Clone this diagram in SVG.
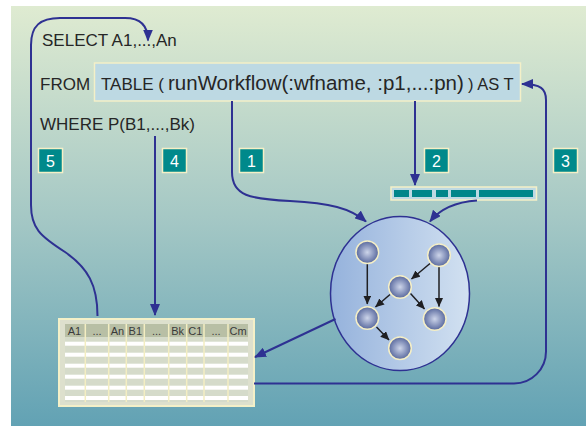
<svg xmlns="http://www.w3.org/2000/svg" width="586" height="426" viewBox="0 0 586 426">
<defs>
<linearGradient id="bg" x1="0" y1="0" x2="0" y2="1">
<stop offset="0" stop-color="#dfebd1"/>
<stop offset="0.5" stop-color="#a5c8c5"/>
<stop offset="1" stop-color="#62a2b4"/>
</linearGradient>
<linearGradient id="ell" x1="0" y1="0" x2="1" y2="0">
<stop offset="0" stop-color="#95b2dc"/>
<stop offset="1" stop-color="#d2e1f1"/>
</linearGradient>
<radialGradient id="ball" cx="0.5" cy="0.5" r="0.5">
<stop offset="0" stop-color="#cdd5ea"/>
<stop offset="1" stop-color="#58689d"/>
</radialGradient>
<marker id="ab" viewBox="0 0 12 10" refX="11" refY="5" markerWidth="12" markerHeight="10" markerUnits="userSpaceOnUse" orient="auto">
<path d="M0,0 L12,5 L0,10 Z" fill="#2e3192"/>
</marker>
<marker id="ak" viewBox="0 0 9 8" refX="8.5" refY="4" markerWidth="9" markerHeight="8" markerUnits="userSpaceOnUse" orient="auto">
<path d="M0,0 L9,4 L0,8 Z" fill="#1f1f22"/>
</marker>
<style>
.t{font-family:"Liberation Sans",Arial,sans-serif;fill:#262626}
.c{fill:none;stroke:#2e3192;stroke-width:2}
.num rect{fill:#00898b;stroke:#f5f0c6;stroke-width:1.5}
.num text{font-family:"Liberation Sans",Arial,sans-serif;font-size:16px;fill:#ffffff;text-anchor:middle}
.ball{fill:url(#ball);stroke:#f5efc6;stroke-width:1.5}
.ge{stroke:#1f1f22;stroke-width:1.5;fill:none}
.hd{font-family:"Liberation Sans",Arial,sans-serif;font-size:11px;fill:#3a3a3a;text-anchor:middle}
.col{stroke:#f3eec2;stroke-width:1.5}
.seg{fill:#00868a}
</style>
</defs>
<rect x="0" y="0" width="586" height="426" fill="#ffffff"/>
<rect x="11" y="6" width="575" height="420" fill="url(#bg)"/>

<g id="select">
<text class="t" x="42" y="46" font-size="17">SELECT A1,...,An</text>
</g>
<g id="from">
<text class="t" x="40" y="90" font-size="17">FROM</text>
<rect x="94.5" y="63" width="426" height="38" fill="#bdd9e3" stroke="#f4f0c8" stroke-width="1.5"/>
<text class="t" x="101" y="90" font-size="17">TABLE (</text>
<text class="t" x="168" y="90" font-size="20.5">runWorkflow(:wfname, :p1,...:pn)</text>
<text class="t" x="468" y="90" font-size="16.5">) AS T</text>
</g>
<g id="where">
<text class="t" x="40" y="130" font-size="17">WHERE P(B1,...,Bk)</text>
</g>

<g id="n5" class="num"><rect x="38.5" y="148.5" width="24" height="24"/><text x="50.5" y="166.5">5</text></g>
<g id="n4" class="num"><rect x="162.5" y="148.5" width="24" height="24"/><text x="174.5" y="166.5">4</text></g>
<g id="n1" class="num"><rect x="239.5" y="148.5" width="24" height="24"/><text x="251.5" y="166.5">1</text></g>
<g id="n2" class="num"><rect x="424.5" y="148.5" width="24" height="24"/><text x="436.5" y="166.5">2</text></g>
<g id="n3" class="num"><rect x="553.5" y="148.5" width="24" height="24"/><text x="565.5" y="166.5">3</text></g>

<g id="bar">
<rect x="391" y="187" width="145.5" height="13" fill="#bdd9e3" stroke="#f4f0c8" stroke-width="1.5"/>
<rect class="seg" x="394" y="190" width="15" height="7"/>
<rect class="seg" x="412" y="190" width="20" height="7"/>
<rect class="seg" x="436" y="190" width="12" height="7"/>
<rect class="seg" x="451" y="190" width="25" height="7"/>
<rect class="seg" x="479" y="190" width="54" height="7"/>
</g>

<g id="workflow">
<ellipse cx="400" cy="293.5" rx="69.5" ry="77" fill="url(#ell)" stroke="#2e3192" stroke-width="1.5"/>
<line class="ge" x1="367.3" y1="264" x2="367.3" y2="304" marker-end="url(#ak)"/>
<line class="ge" x1="439" y1="267" x2="439" y2="306.5" marker-end="url(#ak)"/>
<line class="ge" x1="430" y1="263.5" x2="411.5" y2="279" marker-end="url(#ak)"/>
<line class="ge" x1="390" y1="294.5" x2="375.5" y2="307" marker-end="url(#ak)"/>
<line class="ge" x1="410.5" y1="293.5" x2="424.5" y2="309" marker-end="url(#ak)"/>
<line class="ge" x1="376.5" y1="327" x2="389" y2="340" marker-end="url(#ak)"/>
<circle class="ball" cx="367.3" cy="252.3" r="11.3"/>
<circle class="ball" cx="439" cy="255.3" r="11.3"/>
<circle class="ball" cx="400" cy="287" r="11.3"/>
<circle class="ball" cx="367.3" cy="318" r="11.3"/>
<circle class="ball" cx="434.7" cy="319" r="11.3"/>
<circle class="ball" cx="400" cy="348.3" r="11.3"/>
</g>

<g id="result">
<rect x="59" y="319" width="195" height="87" fill="#dde0cd" stroke="#f4f0c8" stroke-width="2"/>
<rect x="65" y="324" width="183" height="13" fill="#b8bfa5"/>
<rect x="65" y="337" width="183" height="65" fill="#d5dbca"/>
<rect x="65" y="341.7" width="183" height="4" fill="#ffffff"/>
<rect x="65" y="352.7" width="183" height="4" fill="#ffffff"/>
<rect x="65" y="363.7" width="183" height="4" fill="#ffffff"/>
<rect x="65" y="374.7" width="183" height="4" fill="#ffffff"/>
<rect x="65" y="385.7" width="183" height="4" fill="#ffffff"/>
<rect x="65" y="396" width="183" height="4" fill="#ffffff"/>
<line class="col" x1="85.3" y1="324" x2="85.3" y2="402"/>
<line class="col" x1="108.7" y1="324" x2="108.7" y2="402"/>
<line class="col" x1="126.3" y1="324" x2="126.3" y2="402"/>
<line class="col" x1="144.3" y1="324" x2="144.3" y2="402"/>
<line class="col" x1="168.7" y1="324" x2="168.7" y2="402"/>
<line class="col" x1="186.7" y1="324" x2="186.7" y2="402"/>
<line class="col" x1="204" y1="324" x2="204" y2="402"/>
<line class="col" x1="228" y1="324" x2="228" y2="402"/>
<text class="hd" x="74.5" y="334.5">A1</text>
<text class="hd" x="97" y="334.5">...</text>
<text class="hd" x="117.5" y="334.5">An</text>
<text class="hd" x="135.3" y="334.5">B1</text>
<text class="hd" x="156.5" y="334.5">...</text>
<text class="hd" x="177.7" y="334.5">Bk</text>
<text class="hd" x="195.3" y="334.5">C1</text>
<text class="hd" x="216" y="334.5">...</text>
<text class="hd" x="238" y="334.5">Cm</text>
</g>

<g id="connectors">
<path class="c" d="M232,101 V172 C232,196 250,199 290,201 C330,203 350,208 366,221.5" marker-end="url(#ab)"/>
<path class="c" d="M415,101 V185" marker-end="url(#ab)"/>
<path class="c" d="M477,200.5 C455,202 440,209 430,221.5" marker-end="url(#ab)"/>
<path class="c" d="M254,383.5 H514 A32,32 0 0 0 546,351.5 V100 C546,89 541,84 522,84" marker-end="url(#ab)"/>
<path class="c" d="M155,136 V315" marker-end="url(#ab)"/>
<path class="c" d="M335.5,319 L255,357" marker-end="url(#ab)"/>
<path class="c" d="M97.5,316 C97.5,285 88,268 65,252 C40,236 31,228 31,205 V45 C31,26 40,18 60,18 H125 C140,18 148,25 148,40.5" marker-end="url(#ab)"/>
</g>
</svg>
